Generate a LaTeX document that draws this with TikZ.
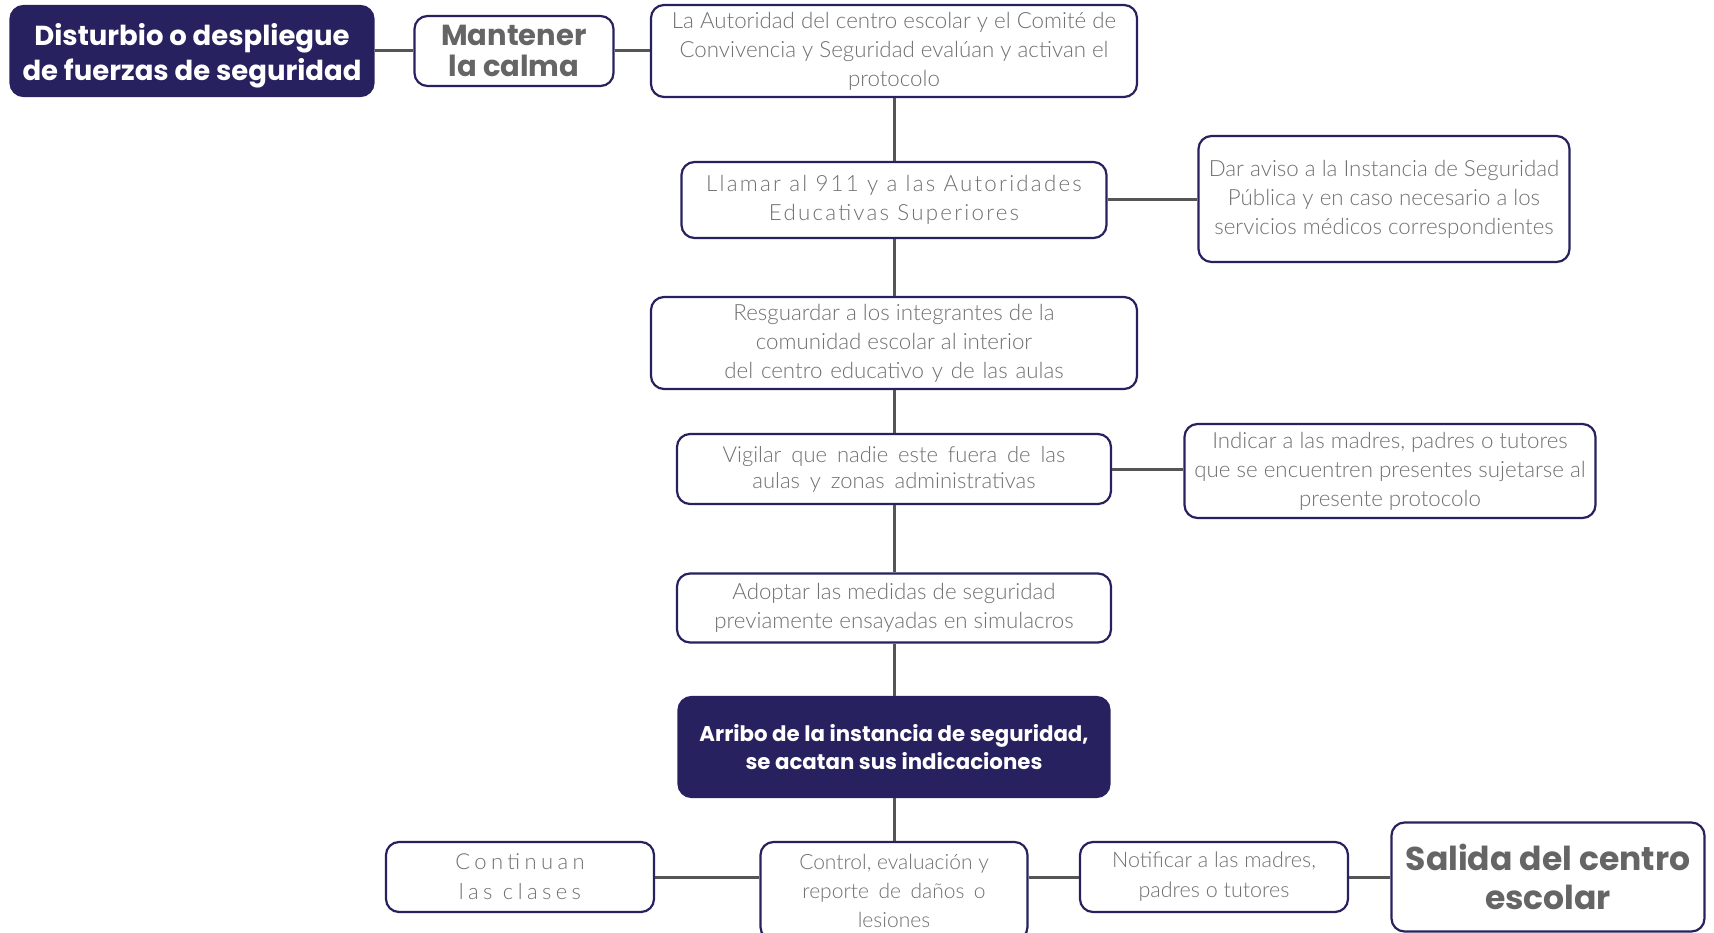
\documentclass[tikz,border=0pt]{standalone}
\usepackage{fontspec}
\setmainfont{Poppins}
\IfFontExistsTF{Lato Light}{\newfontfamily\lightfont{Lato Light}}{\newfontfamily\lightfont{Lato}}
\newcommand\wsp{\spaceskip=0.45em plus 0.1em\relax}
\definecolor{navy}{HTML}{27225F}
\definecolor{txtgray}{HTML}{707070}
\definecolor{linegray}{HTML}{555555}
\begin{document}
\begin{tikzpicture}[x=1pt,y=-1pt,
  box/.style={draw=navy,line width=2.2pt,rounded corners=13pt,fill=white,align=center,text=txtgray,inner sep=0pt,font=\lightfont\fontsize{22.3}{29}\selectfont},
  darkbox/.style={box,fill=navy,text=white},
  wide/.style={font=\lightfont\addfontfeature{LetterSpace=10}\fontsize{22.3}{29}\selectfont},
  spaced/.style={font=\lightfont\fontsize{22}{26}\selectfont\wsp},
  link/.style={draw=linegray,line width=3pt}]
\useasboundingbox (0,0) rectangle (1714,933);
\node[darkbox,minimum width=363,minimum height=90,font=\bfseries\fontsize{27.5}{35}\selectfont] (dist) at (192,51) {\rule{0pt}{31pt}Disturbio o despliegue\\de fuerzas de seguridad};
\node[box,minimum width=199,minimum height=70,font=\bfseries\fontsize{29}{31}\selectfont,text=txtgray!90!black] (calma) at (514,51) {Mantener\\la calma};
\node[box,minimum width=486,minimum height=92] (auto) at (894,51) {La Autoridad del centro escolar y el Comité de\\Convivencia y Seguridad evalúan y activan el\\protocolo};
\node[box,wide,minimum width=425,minimum height=76] (llamar) at (894,200) {Llamar al 911 y a las Autoridades\\Educativas Superiores};
\node[box,minimum width=371,minimum height=126] (aviso) at (1384,199) {Dar aviso a la Instancia de Seguridad\\Pública y en caso necesario a los\\servicios médicos correspondientes};
\node[box,minimum width=486,minimum height=92] (resg) at (894,343) {Resguardar a los integrantes de la\\comunidad escolar al interior\\{\spaceskip=0.35em plus 0.1em\relax del centro educativo y de las aulas}};
\node[box,spaced,minimum width=434,minimum height=70] (vigilar) at (894,469) {Vigilar que nadie este fuera de las\\aulas y zonas administrativas};
\node[box,minimum width=411,minimum height=94] (indicar) at (1390,471) {Indicar a las madres, padres o tutores\\que se encuentren presentes sujetarse al\\presente protocolo};
\node[box,minimum width=434,minimum height=69] (adoptar) at (894,608) {Adoptar las medidas de seguridad\\previamente ensayadas en simulacros};
\node[darkbox,minimum width=431,minimum height=100,font=\bfseries\fontsize{21.3}{27.5}\selectfont] (arribo) at (894,747) {Arribo de la instancia de seguridad,\\se acatan sus indicaciones};
\node[box,minimum width=268,minimum height=70,font=\lightfont\addfontfeature{LetterSpace=20}\fontsize{22}{30}\selectfont] (cont) at (520,877) {Continuan\\las clases};
\node[box,minimum width=267,minimum height=98,font=\lightfont\fontsize{21}{29}\selectfont] (control) at (894,891) {Control, evaluación y\\{\wsp reporte de daños o}\\lesiones};
\node[box,minimum width=268,minimum height=70,font=\lightfont\fontsize{21.5}{30}\selectfont] (notif) at (1214,877) {Notificar a las madres,\\padres o tutores};
\node[box,minimum width=313,minimum height=109,font=\bfseries\fontsize{33}{39}\selectfont,text=txtgray!90!black] (salida) at (1548,877) {Salida del centro\\escolar};
\draw[link] (dist) -- (calma);
\draw[link] (calma) -- (auto);
\draw[link] (auto) -- (llamar);
\draw[link] (llamar) -- (aviso.west |- llamar.east);
\draw[link] (llamar) -- (resg);
\draw[link] (resg) -- (vigilar);
\draw[link] (vigilar) -- (indicar.west |- vigilar.east);
\draw[link] (vigilar) -- (adoptar);
\draw[link] (adoptar) -- (arribo);
\draw[link] (arribo) -- (control.north);
\draw[link] (cont.east) -- (cont.east -| control.west);
\draw[link] (notif.west) -- (notif.west -| control.east);
\draw[link] (notif) -- (salida);
\end{tikzpicture}
\end{document}
